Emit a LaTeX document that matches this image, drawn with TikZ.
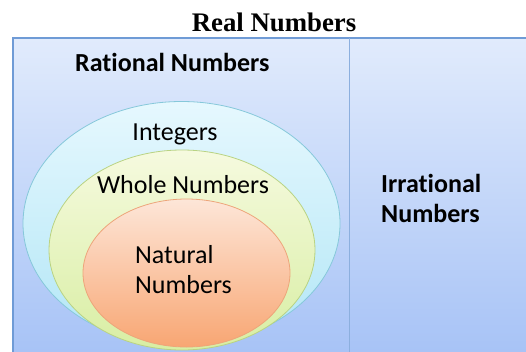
\documentclass[tikz,border=0pt]{standalone}
\usepackage{fontspec}
\setmainfont{Liberation Serif}
\newfontfamily\carlitofont[Ligatures=NoCommon]{Carlito}
\definecolor{panelTop}{HTML}{E1EBFC}
\definecolor{panelBot}{HTML}{A6C2F6}
\definecolor{frameC}{HTML}{6F9BD6}
\definecolor{intTop}{HTML}{E6F8FE}
\definecolor{intBot}{HTML}{B2E6F6}
\definecolor{intLine}{HTML}{86C8DA}
\definecolor{wholeTop}{HTML}{F6FADF}
\definecolor{wholeBot}{HTML}{D8EEA3}
\definecolor{wholeLine}{HTML}{B9D383}
\definecolor{natTop}{HTML}{FDE6D8}
\definecolor{natBot}{HTML}{F8A673}
\definecolor{natLine}{HTML}{EDA57A}
\begin{document}
\begin{tikzpicture}[x=1pt,y=-1pt,
  lbl/.style={font=\carlitofont\fontsize{26}{30}\selectfont, inner sep=0pt, align=left},
  blbl/.style={font=\carlitofont\bfseries\fontsize{26}{30}\selectfont, inner sep=0pt, align=left}]
\useasboundingbox (0,0) rectangle (526,351);
\clip (0,0) rectangle (526,351);
\node[font=\bfseries\fontsize{26.8}{30}\selectfont, inner sep=0pt] (title) at (274,22) {Real Numbers};
\shade[top color=panelTop, bottom color=panelBot] (13,38) rectangle (540,360);
\draw[frameC, line width=1.2pt] (540,38) -- (13,38) -- (13,360);
\draw[frameC!80, line width=1.2pt] (349.5,38) -- (349.5,360);
\node[blbl, anchor=west] (rat) at (75,62) {Rational Numbers};
\shade[top color=intTop, bottom color=intBot, draw=intLine, line width=0.8pt] (181.5,223.5) ellipse [x radius=158.5, y radius=122];
\shade[top color=wholeTop, bottom color=wholeBot, draw=wholeLine, line width=0.8pt] (182,250) ellipse [x radius=133, y radius=100];
\shade[top color=natTop, bottom color=natBot, draw=natLine, line width=0.8pt] (186.5,273) ellipse [x radius=103.5, y radius=74];
\node[lbl] (int) at (175,134) {Integers};
\node[lbl] (whole) at (183,185) {Whole Numbers};
\node[lbl, anchor=west] (nat) at (135,270) {Natural\\Numbers};
\node[blbl, anchor=west] (irr) at (381,198) {Irrational\\Numbers};
\end{tikzpicture}
\end{document}
